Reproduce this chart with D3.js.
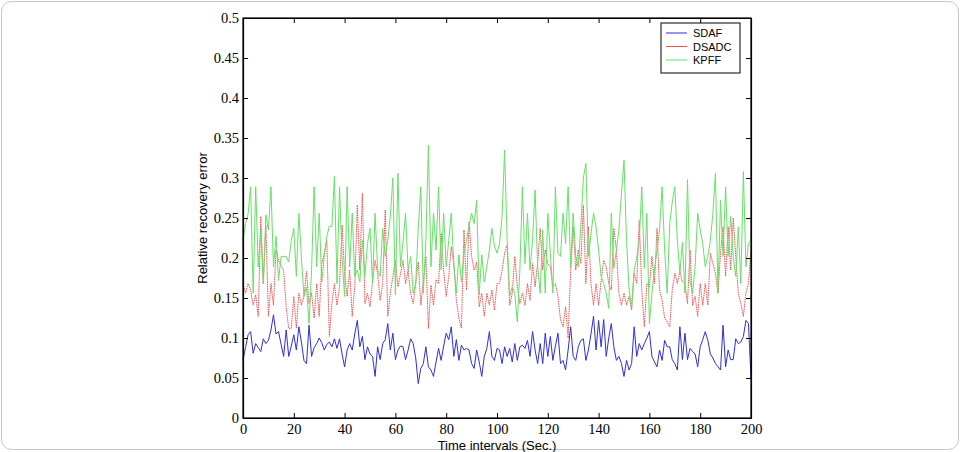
<html><head>
<title>Relative recovery error</title>
<script src="https://d3js.org/d3.v7.min.js"></script>
<style>
  body { margin: 0; background: #fff; }
  .axis-title { font-family: "Liberation Sans", Arial, sans-serif; font-size: 13px; fill: #000; }
  .legend-text { font-family: "Liberation Sans", Arial, sans-serif; font-size: 11px; fill: #000; }
</style>
</head>
<body>
<svg id="chart" width="961" height="452"></svg>
<script>
// series names and colours (legend order)
const seriesNames = ["SDAF", "DSADC", "KPFF"];
const seriesColors = ["#2f2fd8", "#ee5050", "#66e066"];
const seriesDash = [null, "1.5,0.8", null];

const xTickLabels = [0, 20, 40, 60, 80, 100, 120, 140, 160, 180, 200];
const yTickLabels = [0, 0.05, 0.1, 0.15, 0.2, 0.25, 0.3, 0.35, 0.4, 0.45, 0.5];

// one value per time interval, t = 0..200
const sdaf = [
  0.072, 0.088, 0.104, 0.108, 0.081, 0.093, 0.088, 0.083, 0.099, 0.093,
  0.097, 0.110, 0.129, 0.105, 0.108, 0.092, 0.077, 0.110, 0.077, 0.090,
  0.104, 0.085, 0.114, 0.095, 0.072, 0.068, 0.116, 0.077, 0.088, 0.093,
  0.100, 0.094, 0.085, 0.092, 0.095,
  0.089, 0.099, 0.087, 0.099, 0.080, 0.064, 0.085, 0.093, 0.085, 0.105,
  0.122, 0.089, 0.102, 0.073, 0.089, 0.080, 0.077, 0.052, 0.089, 0.073,
  0.093, 0.098, 0.118, 0.085, 0.106, 0.073, 0.085, 0.090, 0.089, 0.073,
  0.085, 0.099,
  0.093, 0.075, 0.043, 0.062, 0.068, 0.089, 0.064, 0.060, 0.052, 0.070,
  0.087, 0.072, 0.090, 0.106, 0.098, 0.114, 0.077, 0.098, 0.072, 0.091,
  0.085, 0.087, 0.085, 0.068, 0.062, 0.085, 0.070, 0.052, 0.077, 0.087,
  0.108, 0.077, 0.072, 0.087,
  0.085, 0.068, 0.089, 0.077, 0.087, 0.070, 0.093, 0.072, 0.089, 0.091,
  0.087, 0.097, 0.077, 0.108, 0.085, 0.068, 0.093, 0.068, 0.106, 0.077,
  0.102, 0.072, 0.090, 0.106, 0.068, 0.072, 0.060, 0.085, 0.114, 0.077,
  0.072, 0.089, 0.097,
  0.099, 0.072, 0.085, 0.105, 0.127, 0.085, 0.122, 0.089, 0.123, 0.077,
  0.100, 0.118, 0.089, 0.072, 0.077, 0.068, 0.052, 0.072, 0.060, 0.068,
  0.114, 0.077, 0.093, 0.085, 0.093, 0.100, 0.108, 0.077, 0.070, 0.064,
  0.085, 0.072, 0.097, 0.089,
  0.089, 0.073, 0.068, 0.060, 0.114, 0.073, 0.106, 0.073, 0.087, 0.083,
  0.080, 0.064, 0.089, 0.098, 0.108, 0.097, 0.080, 0.075, 0.068, 0.064,
  0.060, 0.116, 0.064, 0.085, 0.073, 0.073, 0.099, 0.093, 0.095, 0.102,
  0.122, 0.118, 0.050
];

const dsadc = [
  0.168, 0.156, 0.168, 0.160, 0.141, 0.154, 0.127, 0.252, 0.168, 0.241,
  0.127, 0.168, 0.141, 0.210, 0.197, 0.190, 0.185, 0.139, 0.112, 0.112,
  0.152, 0.112, 0.156, 0.141, 0.152, 0.183, 0.143, 0.156, 0.125, 0.168,
  0.127, 0.193, 0.205, 0.222, 0.102,
  0.143, 0.168, 0.141, 0.164, 0.241, 0.181, 0.152, 0.185, 0.127, 0.164,
  0.266, 0.185, 0.281, 0.143, 0.156, 0.139, 0.170, 0.197, 0.181, 0.147,
  0.168, 0.260, 0.127, 0.156, 0.177, 0.197, 0.164, 0.180, 0.197, 0.168,
  0.185, 0.156,
  0.143, 0.168, 0.195, 0.141, 0.170, 0.202, 0.112, 0.166, 0.141, 0.173,
  0.168, 0.231, 0.185, 0.152, 0.177, 0.214, 0.193, 0.147, 0.125, 0.112,
  0.235, 0.160, 0.245, 0.202, 0.185, 0.195, 0.139, 0.156, 0.127, 0.156,
  0.141, 0.160, 0.135, 0.168,
  0.168, 0.185, 0.206, 0.216, 0.141, 0.156, 0.202, 0.164, 0.143, 0.156,
  0.141, 0.168, 0.147, 0.193, 0.164, 0.193, 0.237, 0.185, 0.210, 0.193,
  0.189, 0.164, 0.168, 0.152, 0.123, 0.114, 0.139, 0.100, 0.185, 0.239,
  0.185, 0.210, 0.193,
  0.266, 0.168, 0.239, 0.168, 0.141, 0.168, 0.141, 0.172, 0.197, 0.189,
  0.168, 0.160, 0.237, 0.210, 0.156, 0.141, 0.156, 0.141, 0.152, 0.135,
  0.181, 0.168, 0.247, 0.160, 0.114, 0.168, 0.164, 0.202, 0.168, 0.237,
  0.160, 0.147, 0.125, 0.120,
  0.114, 0.160, 0.181, 0.168, 0.183, 0.170, 0.168, 0.143, 0.210, 0.141,
  0.152, 0.127, 0.168, 0.141, 0.168, 0.141, 0.206, 0.193, 0.181, 0.156,
  0.206, 0.239, 0.177, 0.239, 0.185, 0.250, 0.202, 0.156, 0.143, 0.127,
  0.156, 0.168, 0.210
];

const kpff = [
  0.222, 0.243, 0.255, 0.289, 0.156, 0.289, 0.189, 0.235, 0.168, 0.254,
  0.235, 0.289, 0.189, 0.227, 0.172, 0.202, 0.202, 0.202, 0.195, 0.222,
  0.237, 0.177, 0.256, 0.200, 0.152, 0.164, 0.118, 0.185, 0.289, 0.189,
  0.256, 0.170, 0.202, 0.227, 0.240,
  0.239, 0.302, 0.168, 0.289, 0.200, 0.152, 0.289, 0.189, 0.256, 0.177,
  0.185, 0.170, 0.222, 0.177, 0.218, 0.237, 0.168, 0.256, 0.185, 0.177,
  0.237, 0.202, 0.222, 0.252, 0.300, 0.154, 0.306, 0.189, 0.220, 0.256,
  0.185, 0.202,
  0.156, 0.168, 0.237, 0.289, 0.156, 0.222, 0.341, 0.189, 0.256, 0.210,
  0.289, 0.185, 0.256, 0.189, 0.222, 0.256, 0.193, 0.156, 0.204, 0.170,
  0.206, 0.222, 0.240, 0.256, 0.243, 0.272, 0.154, 0.204, 0.170, 0.189,
  0.210, 0.237, 0.215, 0.206,
  0.218, 0.252, 0.335, 0.222, 0.152, 0.164, 0.156, 0.120, 0.185, 0.289,
  0.193, 0.256, 0.185, 0.222, 0.285, 0.189, 0.156, 0.235, 0.156, 0.256,
  0.206, 0.156, 0.289, 0.206, 0.202, 0.256, 0.218, 0.289, 0.189, 0.256,
  0.202, 0.189, 0.240,
  0.300, 0.318, 0.202, 0.230, 0.256, 0.239, 0.210, 0.177, 0.168, 0.156,
  0.137, 0.256, 0.187, 0.210, 0.235, 0.280, 0.322, 0.222, 0.160, 0.139,
  0.185, 0.200, 0.222, 0.289, 0.187, 0.256, 0.118, 0.156, 0.185, 0.210,
  0.235, 0.289, 0.210, 0.156,
  0.243, 0.270, 0.289, 0.222, 0.181, 0.220, 0.156, 0.298, 0.170, 0.156,
  0.189, 0.256, 0.235, 0.218, 0.189, 0.202, 0.222, 0.256, 0.306, 0.156,
  0.272, 0.202, 0.289, 0.202, 0.252, 0.202, 0.177, 0.239, 0.168, 0.308,
  0.189, 0.218, 0.222
];

const svg = d3.select("svg#chart");

// rounded frame around the whole figure
svg.append("rect")
   .attr("x", 1.5).attr("y", 1.5)
   .attr("width", 957).attr("height", 448)
   .attr("rx", 10)
   .attr("fill", "#fff")
   .attr("stroke", "#c8c8c8");

const plot = { left: 243, right: 751, top: 18, bottom: 418 };

const x = d3.scaleLinear().domain([0, 200]).range([plot.left, plot.right]);
const y = d3.scaleLinear().domain([0, 0.5]).range([plot.bottom, plot.top]);

// lines
const line = d3.line()
               .x((d, i) => x(i))
               .y(d => y(d));

const allSeries = [sdaf, dsadc, kpff];
svg.append("g")
   .selectAll("path.series")
   .data(allSeries)
   .join("path")
   .attr("class", "series")
   .attr("fill", "none")
   .attr("stroke", (d, i) => seriesColors[i])
   .attr("stroke-dasharray", (d, i) => seriesDash[i])
   .attr("stroke-width", 1)
   .attr("d", d => line(d));

// axes, matlab style: ticks inside on all four sides
const xAxis = d3.axisBottom(x).tickValues(xTickLabels).tickFormat(d => d)
                .tickSizeInner(-5).tickSizeOuter(0).tickPadding(6);
const yAxis = d3.axisLeft(y).tickValues(yTickLabels).tickFormat(d => String(d))
                .tickSizeInner(-5).tickSizeOuter(0).tickPadding(4);
const xTop = d3.axisTop(x).tickValues(xTickLabels).tickFormat("")
               .tickSizeInner(-5).tickSizeOuter(0);
const yRight = d3.axisRight(y).tickValues(yTickLabels).tickFormat("")
                 .tickSizeInner(-5).tickSizeOuter(0);

const axes = [
  svg.append("g").attr("transform", `translate(0,${plot.bottom})`).call(xAxis),
  svg.append("g").attr("transform", `translate(${plot.left},0)`).call(yAxis),
  svg.append("g").attr("transform", `translate(0,${plot.top})`).call(xTop),
  svg.append("g").attr("transform", `translate(${plot.right},0)`).call(yRight)
];
axes.forEach(a => {
  a.select(".domain").attr("stroke", "#000").attr("stroke-width", 1.2);
  a.selectAll(".tick line").attr("stroke", "#000");
  a.selectAll(".tick text")
   .attr("fill", "#000")
   .style("font-family", "'Liberation Serif', 'Times New Roman', serif")
   .style("font-size", "14.5px");
});

// box border
svg.append("rect")
   .attr("x", plot.left).attr("y", plot.top)
   .attr("width", plot.right - plot.left).attr("height", plot.bottom - plot.top)
   .attr("fill", "none")
   .attr("stroke", "#000")
   .attr("stroke-width", 1.2);

// axis titles
svg.append("text").attr("class", "axis-title")
   .attr("x", (plot.left + plot.right) / 2).attr("y", 450)
   .attr("text-anchor", "middle")
   .text("Time intervals (Sec.)");

svg.append("text").attr("class", "axis-title")
   .attr("transform", `translate(207,${(plot.top + plot.bottom) / 2}) rotate(-90)`)
   .attr("text-anchor", "middle")
   .text("Relative recovery error");

// legend
const legend = svg.append("g").attr("transform", "translate(661,23)");
legend.append("rect")
      .attr("width", 79).attr("height", 50)
      .attr("fill", "#fff").attr("stroke", "#000");
seriesNames.forEach((name, i) => {
  legend.append("line")
        .attr("x1", 5).attr("x2", 26)
        .attr("y1", 10 + i * 13.5).attr("y2", 10 + i * 13.5)
        .attr("stroke", seriesColors[i]);
  legend.append("text").attr("class", "legend-text")
        .attr("x", 32).attr("y", 14 + i * 13.5)
        .text(name);
});
</script>
</body>
</html>
